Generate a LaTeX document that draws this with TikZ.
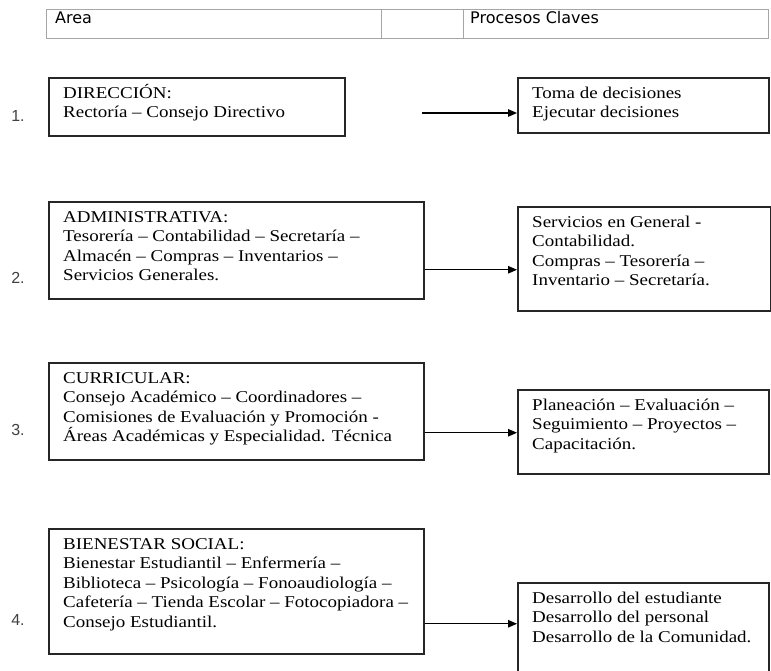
\documentclass[tikz,border=0pt]{standalone}
\usepackage{fontspec}
\setmainfont{Liberation Serif}[FakeStretch=1.15]
\newfontfamily\tablefont{DejaVu Sans}
\newfontfamily\numfont{Liberation Sans}
\usetikzlibrary{arrows.meta}

\newcommand\firstline{\rule{0pt}{16pt}}

\tikzset{
  cell/.style={draw=black!35, line width=1.4pt, anchor=north west, inner sep=0pt, minimum height=29pt},
  areabox/.style={draw=black!85, line width=1.5pt, anchor=north west, inner sep=0pt},
  boxtext/.style={anchor=north west, inner sep=0pt, align=left, font=\fontsize{16.5}{19.5}\selectfont},
  headtext/.style={anchor=base west, inner sep=0pt, font=\tablefont\fontsize{16}{16}\selectfont},
  num/.style={font=\numfont\fontsize{16}{16}\selectfont, text=black!75},
  link/.style={line width=1.2pt, -{Triangle[length=9pt,width=7.5pt]}},
}

\begin{document}
\begin{tikzpicture}[x=1pt,y=-1pt]
    \useasboundingbox (0,0) rectangle (771,670);
    \clip (0,0) rectangle (771,670);
    \fill[white] (0,0) rectangle (771,670);

    % Header row
    \node[cell, minimum width=335pt] (ca) at (46,9)  {};
    \node[cell, minimum width=82pt]  (cb) at (381,9) {};
    \node[cell, minimum width=305pt] (cc) at (463,9) {};
    \node[headtext] (harea) at ([shift={(9pt,-14pt)}]ca.north west) {Area};
    \node[headtext] (hproc) at ([shift={(7pt,-14pt)}]cc.north west) {Procesos Claves};

    % Areas
    \node[areabox, minimum width=296pt, minimum height=58pt]  (a1) at (48,77)  {};
    \node[areabox, minimum width=375pt, minimum height=97pt]  (a2) at (48,201) {};
    \node[areabox, minimum width=375pt, minimum height=97pt]  (a3) at (48,362) {};
    \node[areabox, minimum width=375pt, minimum height=125pt] (a4) at (48,528) {};

    \node[boxtext] (ta1) at ([shift={(15pt,-5pt)}]a1.north west)
      {\firstline DIRECCIÓN:\\ Rectoría – Consejo Directivo};
    \node[boxtext] (ta2) at ([shift={(15pt,-5pt)}]a2.north west)
      {\firstline ADMINISTRATIVA:\\ Tesorería – Contabilidad – Secretaría –\\
       Almacén – Compras – Inventarios –\\ Servicios Generales.};
    \node[boxtext] (ta3) at ([shift={(15pt,-5pt)}]a3.north west)
      {\firstline CURRICULAR:\\ Consejo Académico – Coordinadores –\\
       Comisiones de Evaluación y Promoción -\\ Áreas Académicas y Especialidad. Técnica};
    \node[boxtext] (ta4) at ([shift={(15pt,-5pt)}]a4.north west)
      {\firstline BIENESTAR SOCIAL:\\ Bienestar Estudiantil – Enfermería –\\
       Biblioteca – Psicología – Fonoaudiología –\\
       Cafetería – Tienda Escolar – Fotocopiadora –\\ Consejo Estudiantil.};

    % Key processes
    \node[areabox, minimum width=251pt, minimum height=55pt]  (p1) at (517,77)  {};
    \node[areabox, minimum width=253pt, minimum height=104pt] (p2) at (517,206) {};
    \node[areabox, minimum width=251pt, minimum height=84pt]  (p3) at (517,389) {};
    \node[areabox, minimum width=251pt, minimum height=110pt] (p4) at (517,582) {};

    \node[boxtext] (tp1) at ([shift={(15pt,-5pt)}]p1.north west)
      {\firstline Toma de decisiones\\ Ejecutar decisiones};
    \node[boxtext] (tp2) at ([shift={(15pt,-5pt)}]p2.north west)
      {\firstline Servicios en General -\\ Contabilidad.\\
       Compras – Tesorería –\\ Inventario – Secretaría.};
    \node[boxtext] (tp3) at ([shift={(15pt,-5pt)}]p3.north west)
      {\firstline Planeación – Evaluación –\\ Seguimiento – Proyectos –\\ Capacitación.};
    \node[boxtext] (tp4) at ([shift={(15pt,-5pt)}]p4.north west)
      {\firstline Desarrollo del estudiante\\ Desarrollo del personal\\ Desarrollo de la Comunidad.};

    % Numbers
    \foreach \i/\y in {1/116,2/278,3/430,4/620}
      \node[num] (n\i) at (18,\y) {\i.};

    % Links
    \coordinate (s1) at (422,113);
    \draw[link] (s1) -- (s1 -| p1.west);
    \foreach \i/\dy in {2/-19.5,3/-21.5,4/-32.5}
      \draw[link] ([yshift=\dy pt]a\i.east) coordinate (s\i) -- (s\i -| p\i.west);

\end{tikzpicture}
\end{document}
